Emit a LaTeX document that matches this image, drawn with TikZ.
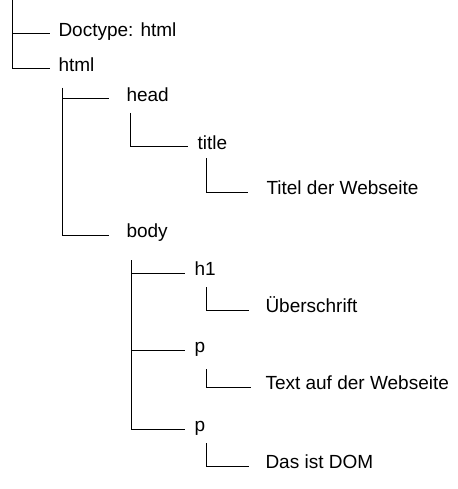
\documentclass[tikz,border=0pt]{standalone}
\usepackage{fontspec}
\setmainfont{Liberation Sans}

\begin{document}
\begin{tikzpicture}[x=1pt,y=-1pt,line width=1pt,
    dom/.style={anchor=mid west, inner sep=0pt, font=\fontsize{19}{22}\selectfont}]
        \useasboundingbox (0,0) rectangle (457,489);
        \coordinate (root) at (12,0);
        \node[dom] (doctype) at (58,34) {Doctype: html};
        \node[dom] (html) at (58,69) {html};
        \node[dom] (head) at (126,99) {head};
        \node[dom] (title) at (197,147) {title};
        \node[dom] (titletext) at (266,192) {Titel der Webseite};
        \node[dom] (body) at (126,235) {body};
        \node[dom] (h1) at (194,273) {h1};
        \node[dom] (h1text) at (265,310) {Überschrift};
        \node[dom] (pa) at (194,350) {p};
        \node[dom] (patext) at (265,387) {Text auf der Webseite};
        \node[dom] (pb) at (194,429) {p};
        \node[dom] (pbtext) at (265,466) {Das ist DOM};
        \draw (root) |- ([xshift=-8pt]doctype.mid west);
        \draw (root) |- ([xshift=-8pt]html.mid west);
        \draw ([xshift=4pt,yshift=-19pt]html.mid west) |- ([xshift=-17pt]head.mid west);
        \draw ([xshift=4pt,yshift=-19pt]html.mid west) |- ([xshift=-17pt]body.mid west);
        \draw ([xshift=4pt,yshift=-14pt]head.mid west) |- ([xshift=-9pt]title.mid west);
        \draw ([xshift=9pt,yshift=-11pt]title.mid west) |- ([xshift=-18pt]titletext.mid west);
        \draw ([xshift=5pt,yshift=-25pt]body.mid west) |- ([xshift=-9pt]h1.mid west);
        \draw ([xshift=5pt,yshift=-25pt]body.mid west) |- ([xshift=-9pt]pa.mid west);
        \draw ([xshift=5pt,yshift=-25pt]body.mid west) |- ([xshift=-9pt]pb.mid west);
        \draw ([xshift=12pt,yshift=-14pt]h1.mid west) |- ([xshift=-16pt]h1text.mid west);
        \draw ([xshift=12pt,yshift=-19pt]pa.mid west) |- ([xshift=-14pt]patext.mid west);
        \draw ([xshift=12pt,yshift=-14pt]pb.mid west) |- ([xshift=-16pt]pbtext.mid west);
    \end{tikzpicture}
\end{document}
